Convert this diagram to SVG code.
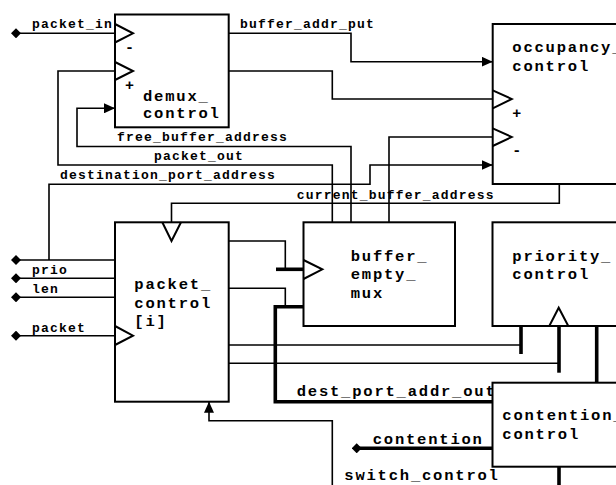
<svg xmlns="http://www.w3.org/2000/svg" width="616" height="485" viewBox="0 0 616 485">
  <style>
    .box { fill: #fff; stroke: #000; stroke-width: 2; }
    .clk { fill: none; stroke: #000; stroke-width: 2; stroke-linejoin: miter; }
    .w { fill: none; stroke: #000; stroke-width: 1.6; }
    .bus { fill: none; stroke: #000; stroke-width: 3.6; }
    .arr { marker-end: url(#arrow); }
    .pin { marker-start: url(#pin); }
    text { font-family: "Liberation Mono", "Courier New", monospace; font-weight: bold; fill: #000; }
    .lbl { font-size: 13px; letter-spacing: 1.2px; }
    .big { font-size: 15.5px; letter-spacing: 1.8px; }
    .sign { font-size: 15px; text-anchor: middle; }
  </style>
  <defs>
    <marker id="arrow" markerUnits="userSpaceOnUse" viewBox="0 0 11 10" markerWidth="11" markerHeight="10" refX="11" refY="5" orient="auto">
      <path d="M0,0 L11,5 L0,10 Z" fill="#000"/>
    </marker>
    <marker id="pin" markerUnits="userSpaceOnUse" viewBox="0 0 10 10" markerWidth="10" markerHeight="10" refX="5" refY="5" orient="auto">
      <path d="M0,5 L5,0 L10,5 L5,10 Z" fill="#000"/>
    </marker>
  </defs>

  <g id="connectors">
    <!-- external inputs -->
    <path class="w pin" d="M16,33.3 H115"/>
    <path class="w pin" d="M16,260 H115"/>
    <path class="w pin" d="M16,278.3 H115"/>
    <path class="w pin" d="M16,297.3 H115"/>
    <path class="w pin" d="M16,335.7 H115"/>
    <!-- demux outputs -->
    <path class="w arr" d="M228.7,33.3 H351 V61.7 H492.7"/>
    <path class="w" d="M228.7,71 H332.3 V99 H492.7"/>
    <!-- mux to occupancy minus input -->
    <path class="w" d="M389,222.3 V137 H492.7"/>
    <!-- free_buffer_address loop -->
    <path class="w arr" d="M351,222.3 V146.5 H77 V108.3 H115"/>
    <!-- packet_out loop -->
    <path class="w" d="M332.3,222.3 V165 H58 V71 H115"/>
    <!-- destination_port_address -->
    <path class="w arr" d="M49,260 V184.3 H370 V165 H492.7"/>
    <!-- current_buffer_address -->
    <path class="w" d="M559.3,184 V203.3 H171.5 V222.3"/>
    <!-- packet_control outputs -->
    <path class="w" d="M228.7,241 H285.3 V269.3"/>
    <path class="bus" d="M276,269.3 H303.5"/>
    <path class="w" d="M228.7,288.3 H285.3 V306.7"/>
    <path class="bus" d="M303.5,306.7 H275.3 V401.7 H492.5"/>
    <path class="w" d="M228.7,345 H521"/>
    <path class="bus" d="M521,326 V354"/>
    <path class="w" d="M228.7,363.3 H559"/>
    <path class="bus" d="M559,326 V372.7"/>
    <path class="bus" d="M596.7,326 V382.7"/>
    <!-- switch_control feedback -->
    <path class="w arr" d="M332.3,485 V420.7 H209 V401.7"/>
    <!-- contention -->
    <path class="bus pin" d="M356.7,448.3 H492.5"/>
    <path class="bus" d="M559,466.7 V485"/>

    <text class="lbl" x="32" y="28">packet_in</text>
    <text class="lbl" x="240" y="28">buffer_addr_put</text>
    <text class="lbl" x="117" y="141">free_buffer_address</text>
    <text class="lbl" x="154" y="160">packet_out</text>
    <text class="lbl" x="60" y="179">destination_port_address</text>
    <text class="lbl" x="296.7" y="199">current_buffer_address</text>
    <text class="lbl" x="32" y="274">prio</text>
    <text class="lbl" x="32" y="293">len</text>
    <text class="lbl" x="32" y="331.5">packet</text>
    <text class="big" x="296.7" y="395.5">dest_port_addr_out</text>
    <text class="big" x="372.7" y="443.5">contention</text>
    <text class="big" x="344.3" y="480">switch_control</text>
  </g>

  <g id="demux_control">
    <rect class="box" x="115" y="14.5" width="113.7" height="112.8"/>
    <polyline class="clk" points="115,24 133,33.3 115,42.5"/>
    <polyline class="clk" points="115,62 133,71 115,80"/>
    <text class="sign" x="129.5" y="52">-</text>
    <text class="sign" x="129.5" y="90">+</text>
    <text class="big" x="143" y="100.5">demux_</text>
    <text class="big" x="143" y="118">control</text>
  </g>

  <g id="occupancy_control">
    <rect class="box" x="492.7" y="24" width="140" height="160"/>
    <polyline class="clk" points="492.7,90.3 511.7,99 492.7,108.3"/>
    <polyline class="clk" points="492.7,128.3 511.7,137 492.7,146"/>
    <text class="sign" x="516.7" y="118">+</text>
    <text class="sign" x="516.7" y="155">-</text>
    <text class="big" x="512.3" y="52.3">occupancy_</text>
    <text class="big" x="512.3" y="70.7">control</text>
  </g>

  <g id="packet_control">
    <rect class="box" x="115" y="222.3" width="113.7" height="179.4"/>
    <polyline class="clk" points="162.3,222.3 171.5,241 181,222.3"/>
    <polyline class="clk" points="115,326 133,335.7 115,345"/>
    <text class="big" x="134.3" y="289.3">packet_</text>
    <text class="big" x="134.3" y="307.5">control</text>
    <text class="big" x="134.3" y="326">[i]</text>
  </g>

  <g id="buffer_empty_mux">
    <rect class="box" x="303.5" y="222.3" width="151.5" height="103.7"/>
    <polyline class="clk" points="303.5,260 322.3,269.3 303.5,279"/>
    <text class="big" x="350.7" y="260.5">buffer_</text>
    <text class="big" x="350.7" y="279">empty_</text>
    <text class="big" x="350.7" y="297.5">mux</text>
  </g>

  <g id="priority_control">
    <rect class="box" x="492.5" y="222.3" width="140" height="103.7"/>
    <polyline class="clk" points="549.3,326 558.7,307.7 568.3,326"/>
    <text class="big" x="512.3" y="260.5">priority_</text>
    <text class="big" x="512.3" y="279">control</text>
  </g>

  <g id="contention_control">
    <rect class="box" x="492.5" y="382.7" width="140" height="84"/>
    <text class="big" x="502.3" y="420">contention_</text>
    <text class="big" x="502.3" y="439">control</text>
  </g>
</svg>
